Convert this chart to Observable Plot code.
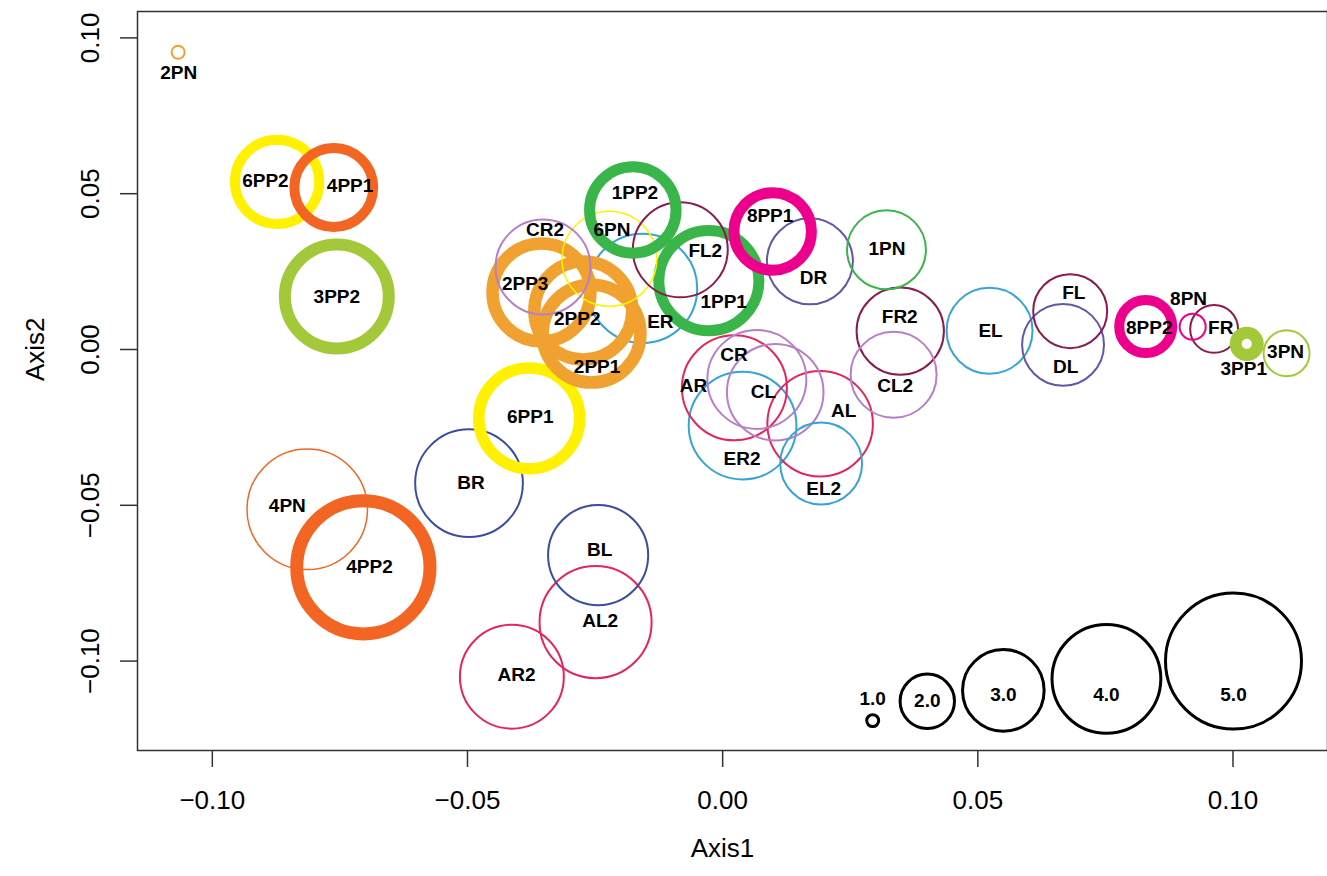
<!DOCTYPE html>
<html><head><meta charset="utf-8">
<script src="https://cdn.jsdelivr.net/npm/d3@7"></script>
<script src="https://cdn.jsdelivr.net/npm/@observablehq/plot@0.6"></script>
<style>
body{margin:0;background:#fff;}
svg{font-family:"Liberation Sans",Arial,Helvetica,sans-serif;}
</style>
</head><body><div id="chart"></div>
<script>
// sample names (thick PP rings first, thin rings after)
const names = ["4PP2","6PP1","2PP3","2PP2","2PP1","6PP2","4PP1","3PP2","1PP2","1PP1","8PP1","8PP2","3PP1",
  "2PN","4PN","6PN","1PN","8PN","3PN","CR2","FL2","ER","DR","FR2","CL2","CR","AR","CL","ER2","AL","EL2",
  "BR","BL","AL2","AR2","EL","FL","DL","FR"];
const axis1 = [-0.0704,-0.0379,-0.0355,-0.0273,-0.0257,-0.0873,-0.0762,-0.0756,-0.0176,-0.0027,0.0098,0.0829,0.1027,
  -0.1067,-0.0814,-0.0222,0.0321,0.0921,0.1105,-0.0352,-0.0083,-0.0157,0.0171,0.0348,0.0335,0.0067,0.0023,0.0103,0.0039,0.0191,0.0193,
  -0.0497,-0.0244,-0.0249,-0.0413,0.0523,0.0681,0.0667,0.0963];
const axis2 = [-0.0699,-0.0221,0.0183,0.0125,0.0051,0.0538,0.0520,0.0170,0.0448,0.0221,0.0379,0.0074,0.0018,
  0.0954,-0.0513,0.0291,0.0320,0.0073,-0.0012,0.0265,0.0320,0.0196,0.0283,0.0059,-0.0081,-0.0096,-0.0123,-0.0137,-0.0244,-0.0238,-0.0366,
  -0.0429,-0.0660,-0.0875,-0.1050,0.0060,0.0123,0.0015,0.0066];
const size = [4.9,3.71,3.6,3.6,3.6,3.1,2.9,3.82,3.18,3.68,2.85,1.95,0.81,
  0.48,4.43,3.49,2.9,0.96,1.69,3.49,3.49,4.02,3.16,3.21,3.16,3.64,3.86,3.55,3.96,3.88,3.01,
  3.96,3.68,4.12,3.82,3.16,2.72,3.01,1.76];
const lineWeight = [13,11.5,12.5,12.5,12.5,10,10,12,11,11,11,10,12,
  2,1.5,1.5,2,2,2,2,2,2,2,2,2,2,2,2,2,2,2,2,2,2,2,2,2,2,2];
const labelAxis1 = [-0.0692,-0.0377,-0.0387,-0.0285,-0.0246,-0.0896,-0.0730,-0.0756,-0.0172,0.0002,0.0093,0.0836,0.1021,
  -0.1066,-0.0853,-0.0217,0.0322,0.0913,0.1103,-0.0348,-0.0034,-0.0122,0.0178,0.0347,0.0338,0.0022,-0.0057,0.0080,0.0038,0.0237,0.0198,
  -0.0493,-0.0241,-0.0240,-0.0404,0.0525,0.0688,0.0672,0.0976];
const labelAxis2 = [-0.0699,-0.0217,0.0211,0.0099,-0.0057,0.0542,0.0524,0.0170,0.0502,0.0152,0.0430,0.0070,-0.0062,
  0.0887,-0.0501,0.0385,0.0323,0.0163,-0.0009,0.0384,0.0318,0.0088,0.0229,0.0106,-0.0116,-0.0016,-0.0116,-0.0137,-0.0351,-0.0196,-0.0447,
  -0.0429,-0.0643,-0.0872,-0.1043,0.0059,0.0181,-0.0057,0.0070];

// colour groups
const groups = ["1","2","3","4","6","8","A","B","C","D","E","F"];
const groupColors = ["#3AB54A","#F0A12F","#A3C93A","#F26522","#FFF100","#EC008C","#E4245D","#3A4DA0","#B77FC9","#6256A6","#36A3D9","#8A1C4E"];

// size legend
const legendLabels = ["1.0","2.0","3.0","4.0","5.0"];
const legendSize = [0.44,2,3,4,5];
const legendAxis1 = [0.0294,0.0401,0.0550,0.0752,0.1001];
const legendAxis2 = [-0.1191,-0.1129,-0.1094,-0.1057,-0.1000];
const legendLabelAxis2 = [-0.1122,-0.1129,-0.1107,-0.1107,-0.1107];

const xTicks = [-0.10,-0.05,0,0.05,0.10];
const yTicks = [-0.10,-0.05,0,0.05,0.10];

const samples = names.map((n,i)=>({name:n, group:n[0], x:axis1[i], y:axis2[i], size:size[i], lw:lineWeight[i], lx:labelAxis1[i], ly:labelAxis2[i]}));
const legend = legendLabels.map((l,i)=>({label:l, size:legendSize[i], x:legendAxis1[i], y:legendAxis2[i], ly:legendLabelAxis2[i]}));
const fmt = d3.format(".2f");

const plot = Plot.plot({
  width: 1327, height: 876,
  marginLeft: 137, marginRight: 0, marginTop: 11, marginBottom: 126,
  style: {fontFamily: "'Liberation Sans', Arial, sans-serif", background: "#fff", overflow: "visible"},
  x: {domain: [-0.11466, 0.11852]},
  y: {domain: [-0.12869, 0.10847]},
  r: {type: "linear", domain: [0,5], range: [0,68]},
  color: {domain: groups, range: groupColors},
  marks: [
    Plot.dot(samples, {x:"x", y:"y", r:"size", stroke:"group", strokeWidth:"lw", fill:"none"}),
    Plot.dot(legend, {x:"x", y:"y", r:"size", stroke:"black", strokeWidth:3, fill:"none"}),
    Plot.text(samples, {x:"lx", y:"ly", text:"name", fontWeight:"bold", fontSize:19, fill:"black"}),
    Plot.text(legend, {x:"x", y:"ly", text:"label", fontWeight:"bold", fontSize:19, fill:"black"}),
    Plot.frame({stroke:"#333", strokeWidth:1.5}),
    Plot.axisX({ticks:xTicks, tickFormat:fmt, tickSize:17, tickPadding:23, fontSize:26, label:null, stroke:"#333", strokeWidth:1.5}),
    Plot.axisY({ticks:yTicks, tickFormat:fmt, tickSize:17, tickPadding:22, tickRotate:-90, fontSize:26, label:null, stroke:"#333", strokeWidth:1.5}),
    Plot.text(["Axis1"], {frameAnchor:"bottom", dx:-10, dy:106, fontSize:26}),
    Plot.text(["Axis2"], {frameAnchor:"left", dx:-102, rotate:-90, fontSize:26})
  ]
});
document.getElementById("chart").appendChild(plot);
</script>
</body></html>
